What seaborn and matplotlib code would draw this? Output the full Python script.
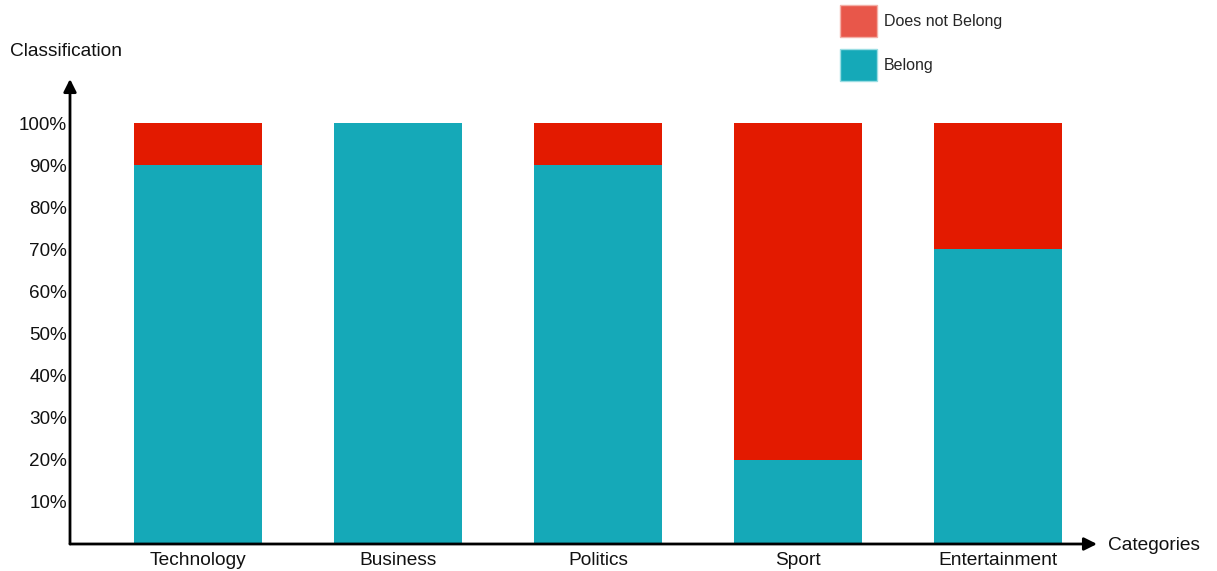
import seaborn as sns
import matplotlib.pyplot as plt
import pandas as pd
from matplotlib.patches import Patch

categories = ["Technology", "Business", "Politics", "Sport", "Entertainment"]
belong = [90, 100, 90, 20, 70]
not_belong = [10, 0, 10, 80, 30]
ytick_values = [10, 20, 30, 40, 50, 60, 70, 80, 90, 100]
ytick_labels = [f"{v}%" for v in ytick_values]

RED = "#E31A00"
TEAL = "#15A9B8"
LEG_RED = "#E8574A"

df = pd.DataFrame({
    "Category": categories,
    "Belong": belong,
    "Total": [b + n for b, n in zip(belong, not_belong)],
})

sns.set_style("white")
plt.rcParams["font.family"] = ["Liberation Sans", "DejaVu Sans"]

fig = plt.figure(figsize=(12.17, 5.71), dpi=100)
ax = fig.add_axes([70 / 1217, 27 / 571, 1027 / 1217, 465 / 571])

sns.barplot(data=df, x="Category", y="Total", color=RED, width=0.64, ax=ax,
            saturation=1, linewidth=0)
sns.barplot(data=df, x="Category", y="Belong", color=TEAL, width=0.64, ax=ax,
            saturation=1, linewidth=0)

ax.set_xlim(-0.64, 4.495)
ax.set_ylim(0, 110.5)
for s in ax.spines.values():
    s.set_visible(False)

ax.set_yticks(ytick_values)
ax.set_yticklabels(ytick_labels, fontsize=13.6, color="#111111")
ax.tick_params(axis="y", length=0, pad=2)
ax.tick_params(axis="x", length=0, pad=6, labelsize=13.8, labelcolor="#111111")
ax.set_xlabel("")
ax.set_ylabel("")

arrow_kw = dict(arrowstyle="-|>", lw=2, color="black", mutation_scale=19,
                shrinkA=0, shrinkB=0)
ax.annotate("", xy=(0, 1), xytext=(0, 0), xycoords="axes fraction",
            textcoords="axes fraction", arrowprops=arrow_kw, annotation_clip=False)
ax.annotate("", xy=(1, 0), xytext=(0, 0), xycoords="axes fraction",
            textcoords="axes fraction", arrowprops=arrow_kw, annotation_clip=False)

fig.text(10 / 1217, 1 - 51 / 571, "Classification", ha="left", va="center",
         fontsize=13.8, color="#111111")
fig.text(1108 / 1217, 1 - 546 / 571, "Categories", ha="left", va="center",
         fontsize=13.8, color="#111111")

handles = [Patch(facecolor=LEG_RED, edgecolor="#F3B0A8", lw=1, label="Does not Belong"),
           Patch(facecolor=TEAL, edgecolor="#9ADDE3", lw=1, label="Belong")]
fig.legend(handles=handles, loc="upper left", bbox_to_anchor=(840 / 1217, 1 - 5 / 571),
           frameon=False, fontsize=11.5, handlelength=2.3, handleheight=2.75,
           labelspacing=0.7, handletextpad=0.45, borderpad=0, borderaxespad=0)

fig.savefig("out.png", dpi=100)
